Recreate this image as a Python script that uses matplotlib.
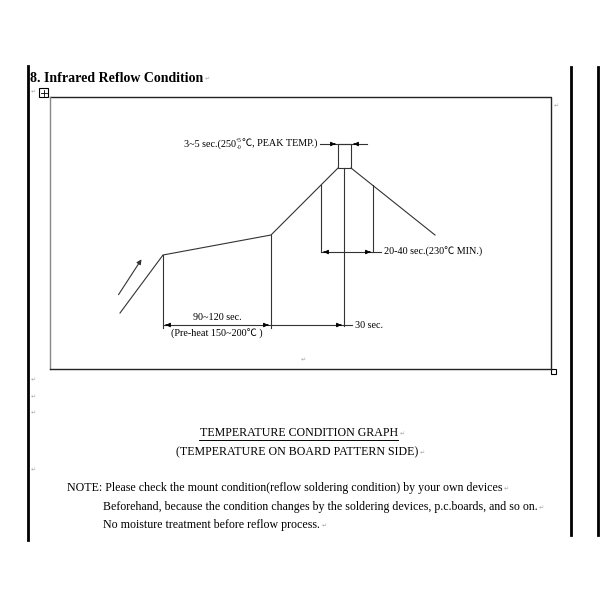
import matplotlib
matplotlib.use("Agg")
import matplotlib.pyplot as plt
from matplotlib.patches import Rectangle

plt.rcParams['font.family'] = ['Liberation Serif', 'Noto Sans CJK JP', 'DejaVu Serif']

# ---- data (diagram units: pixels of the page) ----
profile_x = [120, 163, 271, 338]
profile_y = [313, 255, 235, 168]
cool_x = [351, 435]
cool_y = [168, 235]
peak_box = [338, 144, 351, 168]          # x0, y0, x1, y1
t230_x = [321, 373]
t230_top = [185, 185]
preheat_x = [163, 271]
center_x = 344
title = "8. Infrared Reflow Condition"
peak_left = "3~5 sec.(250"
peak_sup = "+5"
peak_sub = "-0"
peak_right = "℃, PEAK TEMP.)"
label_230 = "20-40 sec.(230℃ MIN.)"
label_30 = "30 sec."
label_pre1 = "90~120 sec."
label_pre2 = "(Pre-heat 150~200℃ )"
caption1 = "TEMPERATURE CONDITION GRAPH"
caption2 = "(TEMPERATURE ON BOARD PATTERN SIDE)"
note_lines = ["NOTE: Please check the mount condition(reflow soldering condition) by your own devices",
              "Beforehand, because the condition changes by the soldering devices, p.c.boards, and so on.",
              "No moisture treatment before reflow process."]

fig = plt.figure(figsize=(6, 6), dpi=100)
ax = fig.add_axes([0, 0, 1, 1])
ax.set_xlim(0, 600)
ax.set_ylim(600, 0)
ax.axis('off')
renderer = fig.canvas.get_renderer()

LC = '#333333'
RC = '#aaaaaa'
FS_D = 7.3
FS_T = 8.55

def ret(x, y):
    ax.text(x, y, "↵", fontsize=4.5, color=RC, family=['DejaVu Sans'], va='center', ha='left')

def data_x_extent(t):
    bb = t.get_window_extent(renderer=renderer)
    inv = ax.transData.inverted()
    (a, _), (b, _) = inv.transform([[bb.x0, bb.y0], [bb.x1, bb.y0]])
    return min(a, b), max(a, b)

def text_ret(x, y, s, **kw):
    t = ax.text(x, y, s, **kw)
    _, right = data_x_extent(t)
    ret(right + 1.5, y + 1)
    return t

# page margins
ax.plot([28, 28], [66, 540], color='black', lw=2)
ax.plot([571, 571], [67, 535], color='black', lw=2)
ax.plot([598, 598], [67, 535], color='black', lw=2)

# title
text_ret(30, 78, title, fontsize=10.0, fontweight='bold', va='center', ha='left')
ret(31, 92)
ax.add_patch(Rectangle((39, 88), 9, 9, fill=False, ec='black', lw=0.8))
ax.plot([43.5, 43.5], [89.5, 95.5], color='black', lw=0.6)
ax.plot([40.5, 46.5], [92.5, 92.5], color='black', lw=0.6)

# diagram frame
ax.plot([50, 551, 551], [97, 97, 369], color='#222222', lw=1)
ax.plot([50, 50], [97, 369], color='#888888', lw=1)
ax.plot([50, 551], [369, 369], color='#222222', lw=1)
ax.add_patch(Rectangle((551, 369), 5, 5, fill=False, ec='black', lw=0.8))
ret(554, 106)
ret(301, 360)

lw = 0.8
# profile
ax.plot(profile_x, profile_y, color=LC, lw=lw)
ax.plot(cool_x, cool_y, color=LC, lw=lw)
x0, y0, x1, y1 = peak_box
ax.add_patch(Rectangle((x0, y0), x1 - x0, y1 - y0, fill=False, ec=LC, lw=lw))

# direction arrow
ax.annotate("", xy=(143, 257), xytext=(117, 297),
            arrowprops=dict(arrowstyle='-|>', color=LC, lw=lw, mutation_scale=7))

def arrowhead(x, y, direction):
    ax.annotate("", xy=(x, y), xytext=(x - 6 * direction, y),
                arrowprops=dict(arrowstyle='-|>', color='black', lw=0.8, mutation_scale=6))

# peak dimension
ax.plot([320, 367], [144, 144], color=LC, lw=lw)
arrowhead(338, 144, 1)
arrowhead(351, 144, -1)

tr = ax.text(318, 144, peak_right, fontsize=FS_D, va='center', ha='right')
xr, _ = data_x_extent(tr)
ts1 = ax.text(xr - 0.5, 141, peak_sup, fontsize=4.0, va='center', ha='right')
ax.text(xr - 0.5, 147.5, peak_sub, fontsize=4.0, va='center', ha='right')
xl, _ = data_x_extent(ts1)
ax.text(xl - 0.3, 144, peak_left, fontsize=FS_D, va='center', ha='right')

# 230C region
for xv, yt in zip(t230_x, t230_top):
    ax.plot([xv, xv], [yt, 252], color=LC, lw=lw)
ax.plot([t230_x[0], 381], [252, 252], color=LC, lw=lw)
arrowhead(t230_x[0], 252, -1)
arrowhead(t230_x[1], 252, 1)
ax.text(384, 252, label_230, fontsize=FS_D, va='center', ha='left')

# center line
ax.plot([center_x, center_x], [168, 326], color=LC, lw=lw)

# preheat
ax.plot([preheat_x[0], preheat_x[0]], [255, 328], color=LC, lw=lw)
ax.plot([preheat_x[1], preheat_x[1]], [235, 328], color=LC, lw=lw)
ax.plot([preheat_x[0], 352], [325, 325], color=LC, lw=lw)
arrowhead(preheat_x[0], 325, -1)
arrowhead(preheat_x[1], 325, 1)
arrowhead(center_x, 325, 1)
ax.text(355, 325, label_30, fontsize=FS_D, va='center', ha='left')
ax.text(217, 317, label_pre1, fontsize=FS_D, va='center', ha='center')
ax.text(217, 334, label_pre2, fontsize=FS_D, va='center', ha='center')

# return marks
for yy in [380, 397, 413, 470]:
    ret(31, yy)

# captions
text_ret(299, 433, caption1, fontsize=FS_T, va='center', ha='center')
ax.plot([199, 398], [440, 440], color='black', lw=0.7)
text_ret(297, 452, caption2, fontsize=FS_T, va='center', ha='center')

text_ret(67, 488, note_lines[0], fontsize=FS_T, va='center', ha='left')
text_ret(103, 507, note_lines[1], fontsize=FS_T, va='center', ha='left')
text_ret(103, 525, note_lines[2], fontsize=FS_T, va='center', ha='left')

fig.savefig("out.png", dpi=100, facecolor='white')
